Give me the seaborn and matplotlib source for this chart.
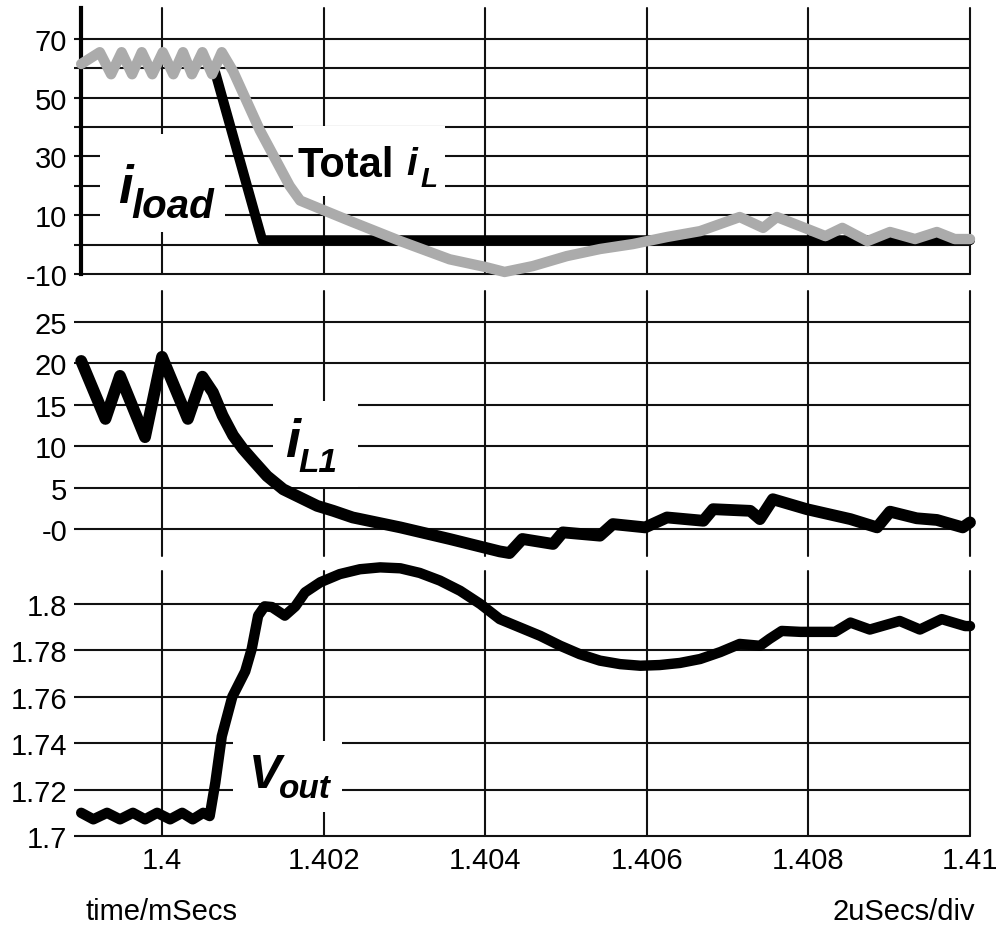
import matplotlib
matplotlib.use("Agg")
import matplotlib.pyplot as plt
from matplotlib.patches import Rectangle
import pandas as pd
import seaborn as sns

# ---------------- data (time in ms) ----------------
# total inductor current, A
total_il_time = [1.39900, 1.39923, 1.39937, 1.39950, 1.39963, 1.39975, 1.39988,
                 1.40001, 1.40014, 1.40026, 1.40037, 1.40050, 1.40062, 1.40074,
                 1.40088, 1.40121, 1.40158, 1.40171, 1.40233, 1.40295, 1.40356,
                 1.40400, 1.40424, 1.40459, 1.40501, 1.40542, 1.40583, 1.40625,
                 1.40666, 1.40715, 1.40744, 1.40761, 1.40799, 1.40821, 1.40842,
                 1.40873, 1.40901, 1.40932, 1.40959, 1.40981, 1.41000]
total_il = [61.5, 65.5, 58.0, 65.5, 58.0, 65.5, 58.0,
            65.5, 58.0, 65.5, 58.0, 65.5, 58.0, 65.5,
            59.0, 39.0, 20.0, 15.0, 8.0, 1.2, -5.0,
            -7.6, -9.3, -7.3, -3.9, -1.5, 0.2, 2.6,
            4.6, 9.4, 5.7, 9.4, 5.3, 2.9, 5.7,
            1.2, 4.3, 1.9, 4.3, 1.9, 1.9]

# load current step, A (the part before the step lies under the ripple)
iload_time = [1.40066, 1.40124, 1.41000]
iload = [58.5, 1.5, 1.5]

# phase-1 inductor current, A
il1_time = [1.39900, 1.39930, 1.39948, 1.39979, 1.40000, 1.40032, 1.40050,
            1.40063, 1.40075, 1.40088, 1.40100, 1.40113, 1.40130, 1.40150,
            1.40171, 1.40192, 1.40212, 1.40236, 1.40295, 1.40356,
            1.40418, 1.40430, 1.40446, 1.40484, 1.40496, 1.40542, 1.40558,
            1.40598, 1.40625, 1.40670, 1.40682, 1.40728, 1.40740, 1.40756,
            1.40798, 1.40852, 1.40885, 1.40901, 1.40934, 1.40959, 1.40991,
            1.41000]
il1 = [20.3, 13.3, 18.5, 11.1, 20.8, 13.3, 18.4,
       16.5, 13.7, 11.3, 9.7, 8.25, 6.4, 4.8,
       3.8, 2.8, 2.2, 1.4, 0.2, -1.2,
       -2.7, -2.9, -1.2, -1.8, -0.4, -0.8, 0.6,
       0.2, 1.4, 1.0, 2.4, 2.2, 1.2, 3.6,
       2.4, 1.2, 0.2, 2.1, 1.3, 1.1, 0.2,
       0.8]

# output voltage, V
vout_time = [1.39900, 1.39915, 1.39932, 1.39948, 1.39964, 1.39979, 1.39994,
             1.40010, 1.40025, 1.40038, 1.40051, 1.40059, 1.40066, 1.40074,
             1.40087, 1.40103, 1.40111, 1.40119, 1.40127, 1.40136, 1.40152,
             1.40165, 1.40177, 1.40196, 1.40220, 1.40245, 1.40270, 1.40295,
             1.40319, 1.40344, 1.40369, 1.40394, 1.40418, 1.40443, 1.40468,
             1.40493, 1.40517, 1.40542, 1.40567, 1.40592, 1.40616, 1.40641,
             1.40666, 1.40691, 1.40715, 1.40740, 1.40752, 1.40767,
             1.40790, 1.40833, 1.40852, 1.40876, 1.40913, 1.40938, 1.40965,
             1.40994, 1.41000]
vout = [1.7100, 1.7072, 1.7100, 1.7072, 1.7100, 1.7072, 1.7100,
        1.7072, 1.7100, 1.7072, 1.7100, 1.7086, 1.7230, 1.7430,
        1.7600, 1.7710, 1.7806, 1.7950, 1.7990, 1.7987, 1.7950,
        1.7990, 1.8050, 1.8094, 1.8129, 1.8150, 1.8158, 1.8154,
        1.8134, 1.8101, 1.8057, 1.8000, 1.7935, 1.7899, 1.7863,
        1.7820, 1.7784, 1.7756, 1.7741, 1.7734, 1.7737, 1.7746,
        1.7763, 1.7793, 1.7828, 1.7820, 1.7850, 1.7884,
        1.7880, 1.7880, 1.7920, 1.7890, 1.7927, 1.7890, 1.7935,
        1.7905, 1.7905]

time_ticks = [1.400, 1.402, 1.404, 1.406, 1.408, 1.410]
time_labels = ["1.4", "1.402", "1.404", "1.406", "1.408", "1.41"]

current_ticks = [-10, 0, 10, 20, 30, 40, 50, 60, 70]
current_labels = ["-10", "", "10", "", "30", "", "50", "", "70"]

il1_ticks = [0, 5, 10, 15, 20, 25]
il1_labels = ["-0", "5", "10", "15", "20", "25"]

vout_ticks = [1.70, 1.72, 1.74, 1.76, 1.78, 1.80]
vout_labels = ["1.7", "1.72", "1.74", "1.76", "1.78", "1.8"]

# ---------------- styling ----------------
sns.set_theme(style="white")
plt.rcParams["font.family"] = ["Liberation Sans", "DejaVu Sans"]

GRID = "#111111"
TICK_SIZE = 21

fig = plt.figure(figsize=(10, 9.37), dpi=100)
x0, w = 0.0812, 0.8888
ax_top = fig.add_axes([x0, 0.7065, w, 0.2839])
ax_mid = fig.add_axes([x0, 0.4055, w, 0.2828])
ax_bot = fig.add_axes([x0, 0.1067, w, 0.2828])

line_kw = dict(solid_capstyle="round", solid_joinstyle="round",
               clip_on=False, zorder=4)

df_load = pd.DataFrame({"t": iload_time, "i": iload})
df_total = pd.DataFrame({"t": total_il_time, "i": total_il})
df_il1 = pd.DataFrame({"t": il1_time, "i": il1})
df_vout = pd.DataFrame({"t": vout_time, "v": vout})

sns.lineplot(data=df_load, x="t", y="i", ax=ax_top, color="black",
             linewidth=7.2, **line_kw)
sns.lineplot(data=df_total, x="t", y="i", ax=ax_top, color="#ababab",
             linewidth=7.5, **line_kw)
sns.lineplot(data=df_il1, x="t", y="i", ax=ax_mid, color="black",
             linewidth=8.5, **line_kw)
sns.lineplot(data=df_vout, x="t", y="v", ax=ax_bot, color="black",
             linewidth=7.5, **line_kw)


def style_axes(ax, ylim, yticks, ylabels, show_x):
    ax.set_xlim(1.399, 1.410)
    ax.set_ylim(*ylim)
    ax.set_xticks(time_ticks)
    ax.set_xticklabels(time_labels if show_x else [""] * len(time_ticks))
    ax.set_yticks(yticks)
    ax.set_yticklabels(ylabels)
    ax.set_xlabel("")
    ax.set_ylabel("")
    ax.grid(True, color=GRID, linewidth=1.5, clip_on=False)
    ax.set_axisbelow(True)
    for s in ax.spines.values():
        s.set_visible(False)
    ax.tick_params(axis="y", left=True, length=5, width=1.5, color=GRID,
                   labelsize=TICK_SIZE, pad=5, labelcolor="black")
    ax.tick_params(axis="x", bottom=False, length=0, labelsize=TICK_SIZE,
                   pad=7, labelbottom=show_x, labelcolor="black")


style_axes(ax_top, (-10, 80.55), current_ticks, current_labels, False)
style_axes(ax_mid, (-3.26, 28.74), il1_ticks, il1_labels, False)
style_axes(ax_bot, (1.7, 1.81422), vout_ticks, vout_labels, True)

ax_top.spines["left"].set_visible(True)
ax_top.spines["left"].set_linewidth(3)
ax_top.spines["left"].set_color("black")


def trace_label(ax, box, parts):
    """White backdrop plus a letter with a smaller subscript."""
    (t0, t1), (v0, v1) = box
    ax.add_patch(Rectangle((t0, v0), t1 - t0, v1 - v0, facecolor="white",
                           edgecolor="none", zorder=1.5))
    for t, v, text, size, italic in parts:
        ax.text(t, v, text, fontsize=size, fontweight="bold",
                fontstyle="italic" if italic else "normal",
                ha="left", va="baseline", color="black", zorder=5)


trace_label(ax_top, ((1.39923, 1.40078), (4.3, 37.7)),
            [(1.39946, 14.5, "i", 38, True),
             (1.39962, 9.4, "load", 29, True)])
trace_label(ax_top, ((1.40162, 1.40350), (16.6, 40.4)),
            [(1.40168, 23.4, "Total", 30, False),
             (1.40302, 24.0, "i", 28, True),
             (1.40320, 20.0, "L", 20, True)])
trace_label(ax_mid, ((1.40137, 1.40243), (5.07, 15.46)),
            [(1.40152, 8.82, "i", 39, True),
             (1.40169, 7.0, "L1", 24, True)])
trace_label(ax_bot, ((1.40088, 1.40223), (1.7103, 1.7410)),
            [(1.40108, 1.7211, "V", 35, True),
             (1.40145, 1.7168, "out", 24, True)])

fig.text(0.085, 1 - 912 / 937, "time/mSecs", fontsize=TICK_SIZE,
         ha="left", va="center", color="black")
fig.text(0.975, 1 - 912 / 937, "2uSecs/div", fontsize=TICK_SIZE,
         ha="right", va="center", color="black")

fig.savefig("out.png", dpi=100, facecolor="white")
